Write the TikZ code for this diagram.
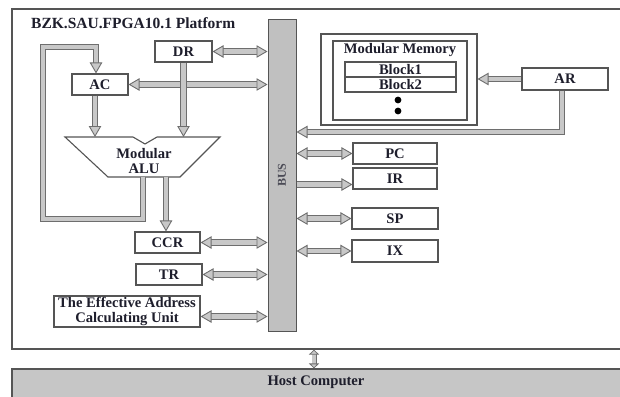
\documentclass[tikz,border=0pt]{standalone}
\usepackage{fontspec}
\setmainfont{Liberation Serif}
\usetikzlibrary{arrows.meta}
\definecolor{ink}{HTML}{1E1E2C}
\definecolor{boxedge}{HTML}{555555}
\definecolor{pipefill}{HTML}{C8C8C8}
\definecolor{pipeedge}{HTML}{6E6E6E}
\definecolor{busfill}{HTML}{C0C0C0}
\definecolor{hostfill}{HTML}{C6C6C6}

\begin{document}
\begin{tikzpicture}[x=1pt,y=-1pt,
  lbl/.style={font=\fontsize{14.6}{15}\selectfont\bfseries, text=ink},
  unit/.style={draw=boxedge, line width=1.1pt, fill=white, inner sep=0pt, lbl},
  frame/.style={draw=boxedge, line width=1.1pt, inner sep=0pt},
  pipe/.style={draw=pipeedge, line width=0.9pt, double=pipefill, double distance=4.4pt},
  thinpipe/.style={draw=pipeedge, line width=0.8pt, double=pipefill, double distance=3.4pt},
  Fat/.tip={Triangle[width=12.5pt, length=11pt, fill=pipefill, line width=0.9pt]},
  Small/.tip={Triangle[width=10pt, length=5pt, fill=pipefill, line width=0.8pt]},
]
\useasboundingbox (0,0) rectangle (620,396);
\fill[white] (0,0) rectangle (620,396);

% platform frame and host computer
\node[frame, minimum width=618pt, minimum height=340pt] (platform) at (321,179) {};
\node[frame, fill=hostfill, minimum width=618pt, minimum height=36pt] (host) at (321,387) {};
\node[lbl] (hostlbl) at (316,382) {Host Computer};
\node[font=\fontsize{15.5}{15}\selectfont\bfseries, text=ink, anchor=west, inner sep=0pt] (title) at (31,23) {BZK.SAU.FPGA10.1 Platform};

% system bus
\node[draw=boxedge, line width=1pt, fill=busfill, minimum width=28pt, minimum height=311pt, inner sep=0pt] (bus) at (282,175.5) {};
\node[font=\fontsize{12}{12}\selectfont\bfseries, text=ink!80, rotate=90] (buslbl) at (282,175) {BUS};

% registers and units
\node[unit, minimum width=57pt, minimum height=21pt] (DR) at (183.5,51.5) {DR};
\node[unit, minimum width=56pt, minimum height=21pt] (AC) at (100,84.5) {AC};
\node[unit, minimum width=65pt, minimum height=21pt] (CCR) at (167.5,242.5) {CCR};
\node[unit, minimum width=66pt, minimum height=21pt] (TR) at (169,274.5) {TR};
\node[unit, minimum width=146pt, minimum height=31pt, align=center] (EAU) at (127,311.5) {The Effective Address\\Calculating Unit};
\node[unit, minimum width=86pt, minimum height=22pt] (AR) at (565,79) {AR};
\node[unit, minimum width=84pt, minimum height=21pt] (PC) at (395,153.5) {PC};
\node[unit, minimum width=84pt, minimum height=21pt] (IR) at (395,178.5) {IR};
\node[unit, minimum width=86pt, minimum height=21pt] (SP) at (395,218.5) {SP};
\node[unit, minimum width=86pt, minimum height=22pt] (IX) at (395,251) {IX};

% modular memory
\node[frame, fill=white, minimum width=156pt, minimum height=91pt] (memout) at (399,79.5) {};
\node[frame, minimum width=134pt, minimum height=79pt] (memin) at (400,80.5) {};
\node[lbl] (memlbl) at (400,50) {Modular Memory};
\node[unit, minimum width=111pt, minimum height=15pt] (blk1) at (400.5,69.5) {Block1};
\node[unit, minimum width=111pt, minimum height=15pt] (blk2) at (400.5,84.5) {Block2};
\fill[black] (398,100) circle (3.4pt);
\fill[black] (398,111) circle (3.4pt);

% arithmetic logic unit
\draw[draw=boxedge, line width=1.1pt, fill=white]
  (65,137) -- (133,137) -- (145,144) -- (157,137) -- (220,137)
  -- (180,177) -- (108,177) -- cycle;
\node[lbl, align=center] (alu) at (144,161) {Modular\\ALU};
\coordinate (alutop) at (0,137);
\coordinate (fbout) at (143,177);
\coordinate (fbl) at (43,219);
\coordinate (fbt) at (43,47);
\coordinate (arbus) at (296.5,132);

% data paths
\draw[pipe, Fat-Fat] (DR.east) -- (DR.east -| bus.west);
\draw[pipe, Fat-Fat] (AC.east) -- (AC.east -| bus.west);
\draw[pipe, -Fat] (DR.south) -- (DR.south |- alutop);
\draw[pipe, -Fat] ([xshift=-5pt]AC.south) -- ([xshift=-5pt]AC.south |- alutop);
\draw[pipe, -Fat] (fbout) |- (fbl) -- (fbt) -| ([xshift=-4pt]AC.north);
\draw[pipe, -Fat] ([xshift=-1.5pt]CCR.north |- fbout) -- ([xshift=-1.5pt]CCR.north);
\draw[pipe, Fat-Fat] (CCR.east) -- (CCR.east -| bus.west);
\draw[pipe, Fat-Fat] (TR.east) -- (TR.east -| bus.west);
\draw[pipe, Fat-Fat] ([yshift=-5pt]EAU.east) -- ([yshift=-5pt]EAU.east -| bus.west);
\draw[pipe, -Fat] (AR.west) -- (AR.west -| memout.east);
\draw[pipe, -Fat] ([xshift=-3pt]AR.south) |- (arbus);
\draw[pipe, Fat-Fat] (PC.west -| bus.east) -- (PC.west);
\draw[pipe, -Fat] ([yshift=-6pt]IR.west -| bus.east) -- ([yshift=-6pt]IR.west);
\draw[pipe, Fat-Fat] (SP.west -| bus.east) -- (SP.west);
\draw[pipe, Fat-Fat] (IX.west -| bus.east) -- (IX.west);
\draw[thinpipe, Small-Small] (platform.south -| 314,0) -- (host.north -| 314,0);
\end{tikzpicture}
\end{document}
